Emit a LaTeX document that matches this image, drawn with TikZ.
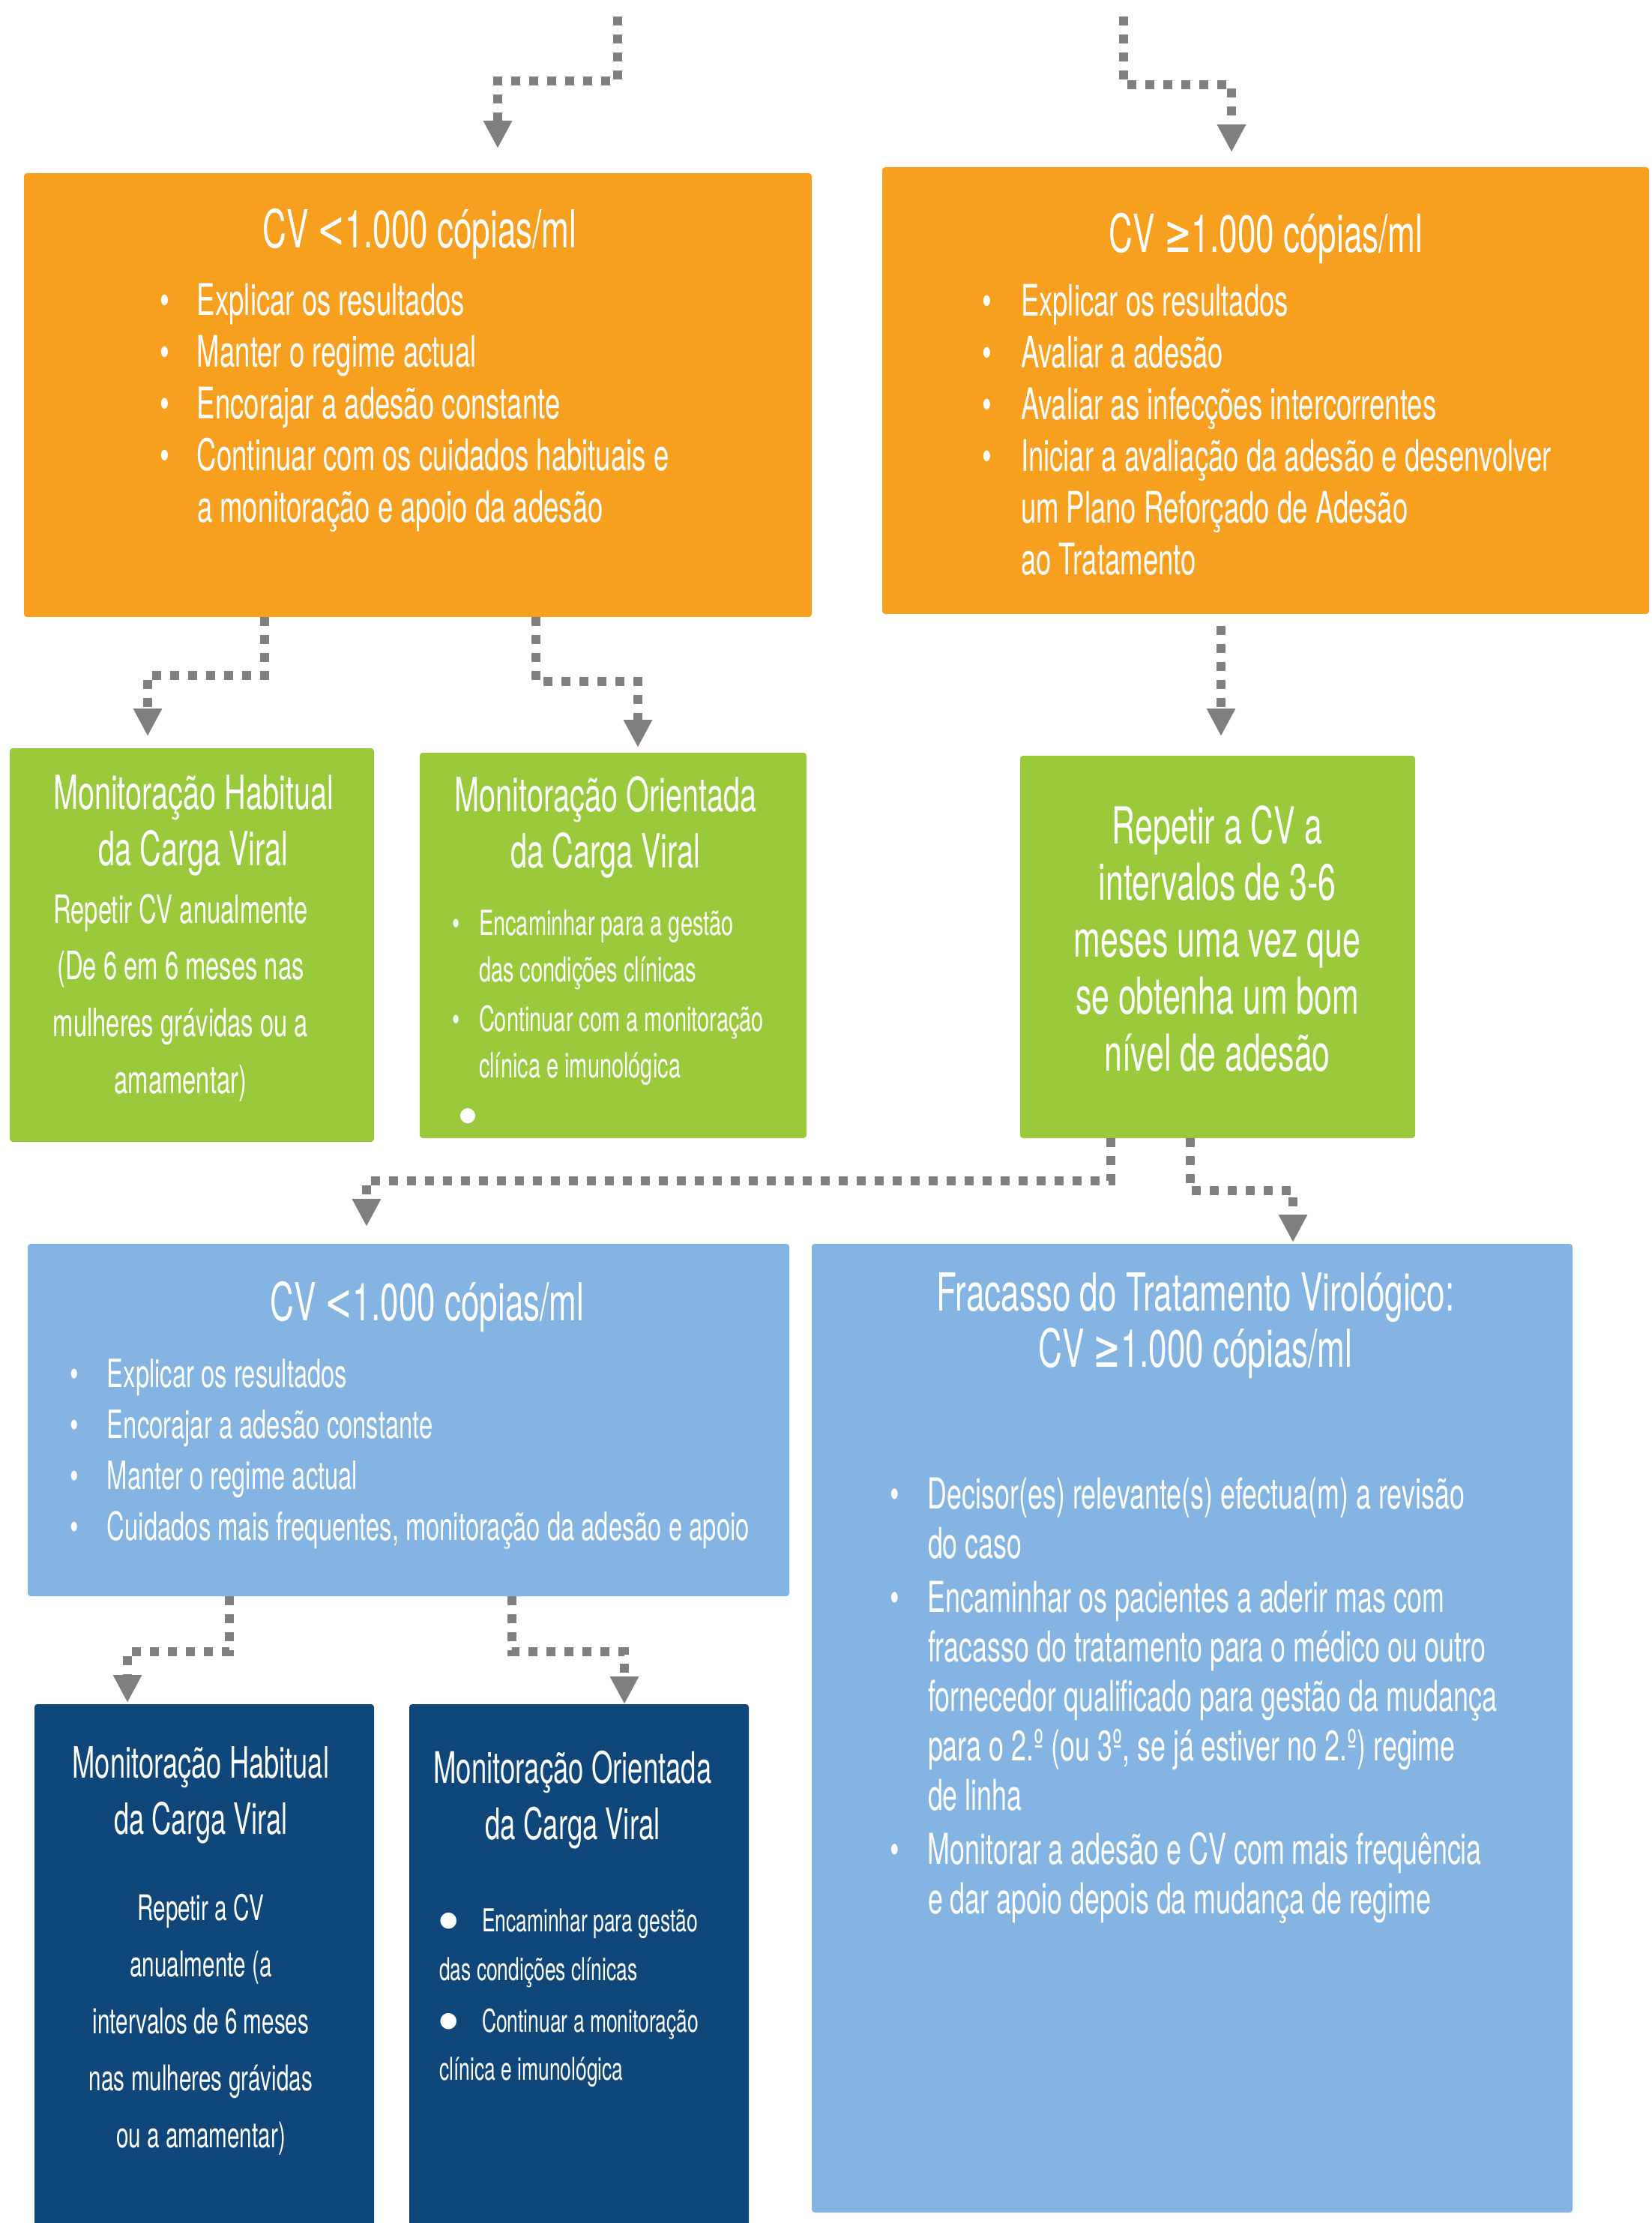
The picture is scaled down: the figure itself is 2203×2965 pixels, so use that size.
\documentclass[tikz,border=0pt]{standalone}
\usepackage{fontspec}
\setmainfont{TeX Gyre Heros}[FakeStretch=0.63]
\newfontfamily\dvs{DejaVu Sans}[FakeStretch=0.63]
\newfontfamily\dvround{DejaVu Sans}
\usetikzlibrary{arrows.meta}
\definecolor{orng}{HTML}{F7A01F}
\definecolor{grn}{HTML}{9ACA3C}
\definecolor{lblue}{HTML}{83B4E2}
\definecolor{dblue}{HTML}{10477B}
\definecolor{agray}{HTML}{7F7F7F}
\newcommand\fsz[2]{\fontsize{#1}{#2}\selectfont}
\newcommand\bitem[2]{\hangindent=#1\hangafter=1\noindent\makebox[#1][l]{•}{\let\\\newline #2}\par}
\newcommand\mygeq{{\dvs ≥}}
\newcommand\myless{{\dvs <}}
\newcommand\bigdot[1]{{\dvround\fontsize{#1}{#1}\selectfont ●}}
\tikzset{
  box/.style={rounded corners=0.4mm, inner sep=0pt, outer sep=0pt, anchor=north west},
  txt/.style={text=white, inner sep=0pt, outer sep=0pt},
  conn/.style={draw=agray, line width=1.2mm, dash pattern=on 1.2mm off 1.2mm,
    -{Triangle[width=3.6mm,length=3.7mm]}},
}
\begin{document}
\begin{tikzpicture}[x=0.1mm, y=-0.1mm]
\useasboundingbox (0,0) rectangle (2203,2965);
% boxes
\node[box, fill=orng, minimum width=105.1mm, minimum height=59.2mm] (o1) at (32,231) {};
\node[box, fill=orng, minimum width=102.3mm, minimum height=59.6mm] (o2) at (1177,223) {};
\node[box, fill=grn, minimum width=48.6mm, minimum height=52.5mm] (g1) at (13,998) {};
\node[box, fill=grn, minimum width=51.6mm, minimum height=51.4mm] (g2) at (560,1004) {};
\node[box, fill=grn, minimum width=52.7mm, minimum height=51.0mm] (g3) at (1361,1008) {};
\node[box, fill=lblue, minimum width=101.6mm, minimum height=47.0mm] (b1) at (37,1659) {};
\node[box, fill=lblue, minimum width=101.5mm, minimum height=129.2mm] (b2) at (1083,1659) {};
\node[box, fill=dblue, minimum width=45.3mm, minimum height=71.7mm] (d1) at (46,2273) {};
\node[box, fill=dblue, minimum width=45.3mm, minimum height=71.7mm] (d2) at (546,2273) {};

% orange left
\node[txt, anchor=base, font=\fsz{19.9pt}{21.6pt}] (o1t) at (560,331) {CV \myless1.000 cópias/ml};
\node[txt, anchor=base west] (o1l) at (213,421) {\parbox[t]{95mm}{\raggedright\fsz{16.5pt}{19.63pt}%
  \bitem{5mm}{Explicar os resultados}%
  \bitem{5mm}{Manter o regime actual}%
  \bitem{5mm}{Encorajar a adesão constante}%
  \bitem{5mm}{Continuar com os cuidados habituais e\\a monitoração e apoio da adesão}}};

% orange right
\node[txt, anchor=base, font=\fsz{19.9pt}{21.6pt}] (o2t) at (1689,337) {CV \mygeq1.000 cópias/ml};
\node[txt, anchor=base west] (o2l) at (1310,422) {\parbox[t]{88mm}{\raggedright\fsz{16.5pt}{19.63pt}%
  \bitem{5.2mm}{Explicar os resultados}%
  \bitem{5.2mm}{Avaliar a adesão}%
  \bitem{5.2mm}{Avaliar as infecções intercorrentes}%
  \bitem{5.2mm}{Iniciar a avaliação da adesão e desenvolver\\um Plano Reforçado de Adesão\\ao Tratamento}}};

% green 1
\node[txt, anchor=base] (g1t) at (258,1079) {\parbox[t]{46mm}{\centering\fsz{17.9pt}{21.6pt}%
  Monitoração Habitual\\da Carga Viral}};
\node[txt, anchor=base] (g1b) at (241,1231) {\parbox[t]{46mm}{\centering\fsz{14.8pt}{21.6pt}%
  Repetir CV anualmente\\(De 6 em 6 meses nas\\mulheres grávidas ou a\\amamentar)}};

% green 2
\node[txt, anchor=base] (g2t) at (808,1082) {\parbox[t]{50mm}{\centering\fsz{17.9pt}{21.6pt}%
  Monitoração Orientada\\da Carga Viral}};
\node[txt, anchor=base west] (g2l) at (603,1247) {\parbox[t]{46mm}{\raggedright\fsz{13.1pt}{17.64pt}\setlength\parskip{1.42pt}%
  \bitem{3.6mm}{Encaminhar para a gestão\\das condições clínicas}%
  \bitem{3.6mm}{Continuar com a monitoração\\clínica e imunológica}}};
\node[txt, anchor=center] (g2d) at (624,1489) {\bigdot{7.5pt}};

% green 3
\node[txt, anchor=base] (g3t) at (1624,1125) {\parbox[t]{52mm}{\centering\fsz{19.35pt}{21.6pt}%
  Repetir a CV a\\intervalos de 3-6\\meses uma vez que\\se obtenha um bom\\nível de adesão}};

% light blue left
\node[txt, anchor=base, font=\fsz{19.9pt}{21.6pt}] (b1t) at (570,1761) {CV \myless1.000 cópias/ml};
\node[txt, anchor=base west] (b1l) at (93,1850) {\parbox[t]{98mm}{\raggedright\fsz{14.8pt}{19.35pt}%
  \bitem{5mm}{Explicar os resultados}%
  \bitem{5mm}{Encorajar a adesão constante}%
  \bitem{5mm}{Manter o regime actual}%
  \bitem{5mm}{Cuidados mais frequentes, monitoração da adesão e apoio}}};

% light blue right
\node[txt, anchor=base] (b2t) at (1595,1748) {\parbox[t]{100mm}{\centering\fsz{19.9pt}{21.6pt}%
  Fracasso do Tratamento Virológico:\\CV \mygeq1.000 cópias/ml}};
\node[txt, anchor=base west] (b2l) at (1187,2012) {\parbox[t]{90mm}{\raggedright\fsz{16.2pt}{18.78pt}\setlength\parskip{1.71pt}%
  \bitem{5.1mm}{Decisor(es) relevante(s) efectua(m) a revisão\\do caso}%
  \bitem{5.1mm}{Encaminhar os pacientes a aderir mas com\\fracasso do tratamento para o médico ou outro\\fornecedor qualificado para gestão da mudança\\para o 2.º (ou 3º, se já estiver no 2.º) regime\\de linha}%
  \bitem{5.1mm}{Monitorar a adesão e CV com mais frequência\\e dar apoio depois da mudança de regime}}};

% dark blue 1
\node[txt, anchor=base] (d1t) at (268,2371) {\parbox[t]{44mm}{\centering\fsz{16.4pt}{21.34pt}%
  Monitoração Habitual\\da Carga Viral}};
\node[txt, anchor=base] (d1b) at (268,2561) {\parbox[t]{44mm}{\centering\fsz{13.4pt}{21.6pt}%
  Repetir a CV\\anualmente (a\\intervalos de 6 meses\\nas mulheres grávidas\\ou a amamentar)}};

% dark blue 2
\node[txt, anchor=base] (d2t) at (764,2378) {\parbox[t]{44mm}{\centering\fsz{16.5pt}{21.6pt}%
  Monitoração Orientada\\da Carga Viral}};
\node[txt, anchor=base west] (d2l) at (586,2576) {\parbox[t]{40mm}{\raggedright\fsz{11.95pt}{18.49pt}\setlength\parskip{1.14pt}%
  \noindent\makebox[5.7mm][l]{\raisebox{0.3ex}{\bigdot{8pt}}}Encaminhar para gestão\newline das condições clínicas\par
  \noindent\makebox[5.7mm][l]{\raisebox{0.3ex}{\bigdot{8pt}}}Continuar a monitoração\newline clínica e imunológica\par}};

% connectors
\coordinate (src1) at (824,22);
\coordinate (src2) at (1499,22);
\draw[conn, shorten >=3.3mm] (src1) -- ++(0,86) -| (o1.north -| 664,0);
\draw[conn, shorten >=2.0mm] (src2) -- ++(0,91) -| (o2.north -| 1643,0);
\draw[conn, shorten >=1.6mm] (o1.south -| 353,0) -- ++(0,78) -| (g1.north -| 197,0);
\draw[conn, shorten >=0.7mm] (o1.south -| 715,0) -- ++(0,86) -| (g2.north -| 851,0);
\draw[conn, shorten <=1.6mm, shorten >=2.6mm] (o2.south -| 1629,0) -- (g3.north -| 1629,0);
\draw[conn, shorten >=2.3mm] (g3.south -| 1482,0) -- ++(0,57) -| (b1.north -| 489,0);
\draw[conn, shorten >=0.2mm] (g3.south -| 1588,0) -- ++(0,70) -| (b2.north -| 1725,0);
\draw[conn, shorten >=0.2mm] (b1.south -| 306,0) -- ++(0,74) -| (d1.north -| 170,0);
\draw[conn] (b1.south -| 683,0) -- ++(0,74) -| (d2.north -| 833,0);
\end{tikzpicture}
\end{document}
